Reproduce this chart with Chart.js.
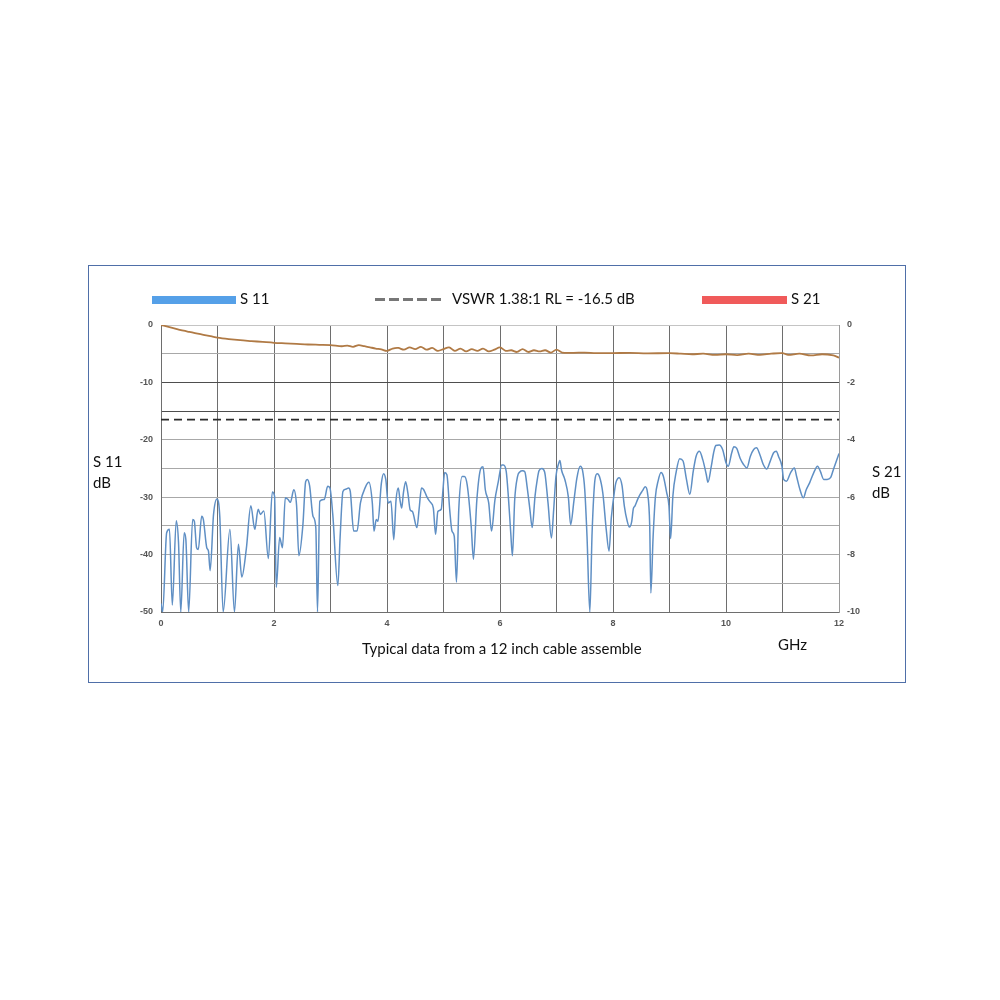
<!DOCTYPE html>
<html>
<head>
<meta charset="utf-8">
<script src="https://cdn.jsdelivr.net/npm/chart.js@4.4.1/dist/chart.umd.min.js"></script>
<style>
  html, body { margin: 0; padding: 0; background: #fff; }
  #wrap { position: relative; width: 1000px; height: 1000px; font-family: Lato, "Noto Sans", sans-serif; color: #111; }
  #chart { position: absolute; left: 0; top: 0; }
  .frame { position: absolute; left: 88px; top: 265px; width: 816px; height: 416px; border: 1px solid #4f6fa8; }
  .txt { position: absolute; font-size: 15px; line-height: 21px; white-space: nowrap; }
  .bar { position: absolute; height: 8px; }
  .dash { position: absolute; width: 68px; height: 3px;
          background: repeating-linear-gradient(to right, #777 0 10px, transparent 10px 14px); }
</style>
</head>
<body>
<div id="wrap">
  <div class="frame"></div>
  <canvas id="chart" width="1000" height="1000"></canvas>
  <div class="bar" style="left:152px;top:296px;width:84px;background:#55a0e8"></div>
  <div class="txt" style="left:240px;top:288px">S 11</div>
  <div class="dash" style="left:375px;top:298px"></div>
  <div class="txt" style="left:452px;top:288px">VSWR 1.38:1 RL = -16.5 dB</div>
  <div class="bar" style="left:702px;top:296px;width:85px;background:#f05a5a"></div>
  <div class="txt" style="left:791px;top:288px">S 21</div>
  <div class="txt" style="left:93px;top:451px">S 11<br>dB</div>
  <div class="txt" style="left:872px;top:461px">S 21<br>dB</div>
  <div class="txt" style="left:362px;top:638px">Typical data from a 12 inch cable assemble</div>
  <div class="txt" style="left:778px;top:634px">GHz</div>
</div>
<script>
// S11 return loss (GHz, dB)
const s11Freq = [0.00, 0.03, 0.10, 0.15, 0.20, 0.27, 0.31, 0.35, 0.41, 0.44, 0.49, 0.56, 0.59, 0.63, 0.66,
  0.72, 0.75, 0.81, 0.84, 0.87, 0.93, 0.99, 1.04, 1.10, 1.22, 1.30, 1.37, 1.43, 1.51, 1.59, 1.66, 1.72,
  1.76, 1.82, 1.90, 1.97, 2.01, 2.04, 2.10, 2.15, 2.20, 2.25, 2.29, 2.35, 2.40, 2.44, 2.51, 2.56, 2.59,
  2.63, 2.69, 2.74, 2.77, 2.81, 2.89, 2.95, 2.99, 3.04, 3.13, 3.17, 3.22, 3.27, 3.32, 3.35, 3.41, 3.47,
  3.53, 3.62, 3.68, 3.74, 3.77, 3.81, 3.84, 3.90, 3.94, 3.98, 4.02, 4.07, 4.12, 4.16, 4.20, 4.23, 4.26,
  4.29, 4.33, 4.37, 4.41, 4.45, 4.53, 4.57, 4.61, 4.65, 4.70, 4.74, 4.77, 4.82, 4.86, 4.90, 4.96, 4.99,
  5.02, 5.06, 5.11, 5.15, 5.19, 5.23, 5.27, 5.33, 5.37, 5.42, 5.49, 5.53, 5.59, 5.66, 5.70, 5.74, 5.80,
  5.85, 5.91, 5.97, 6.03, 6.06, 6.11, 6.15, 6.19, 6.22, 6.26, 6.31, 6.35, 6.40, 6.44, 6.48, 6.53, 6.57,
  6.62, 6.66, 6.69, 6.74, 6.79, 6.85, 6.91, 6.95, 6.99, 7.03, 7.06, 7.09, 7.15, 7.21, 7.25, 7.31, 7.36,
  7.42, 7.46, 7.50, 7.54, 7.59, 7.63, 7.68, 7.72, 7.76, 7.82, 7.88, 7.93, 7.97, 8.03, 8.05, 8.11, 8.16,
  8.20, 8.25, 8.29, 8.33, 8.36, 8.39, 8.44, 8.48, 8.52, 8.57, 8.61, 8.65, 8.67, 8.71, 8.75, 8.80, 8.85,
  8.89, 8.95, 8.99, 9.02, 9.06, 9.12, 9.18, 9.24, 9.30, 9.36, 9.42, 9.47, 9.53, 9.59, 9.65, 9.68, 9.74,
  9.78, 9.82, 9.88, 9.94, 10.00, 10.04, 10.10, 10.14, 10.19, 10.25, 10.31, 10.37, 10.43, 10.49, 10.54,
  10.60, 10.66, 10.72, 10.78, 10.84, 10.89, 10.93, 10.99, 11.02, 11.07, 11.14, 11.21, 11.25, 11.31,
  11.37, 11.42, 11.48, 11.55, 11.62, 11.67, 11.73, 11.79, 11.85, 11.91, 11.96, 12.00];
const s11Db = [-48.5, -50, -36.2, -35.6, -48.8, -34.1, -37.9, -50, -36.2, -37.4, -50, -33.9, -34.2, -38.8, -39.1,
  -33.3, -33.9, -38.8, -39.4, -42.8, -33, -30.3, -33.3, -50, -35.6, -50, -38.2, -43.9, -39, -31.5, -35.6, -32.1,
  -33, -32.4, -40.7, -29.1, -29.8, -45.7, -37, -38.8, -30.1, -30.4, -30.9, -28.7, -31.5, -40.2, -35, -27.3, -26.9,
  -28, -33.3, -35.3, -50, -30.7, -30.4, -28.1, -28.4, -33, -45.4, -37, -29, -28.6, -28.4, -29, -35.9, -35.9,
  -31, -28.2, -27.4, -31, -35.9, -33.9, -34.2, -27.6, -25.9, -27, -31, -30.7, -37.4, -30.5, -28.4, -30.5, -31.9,
  -29.3, -27.3, -29.3, -32.2, -32.5, -35.3, -31.9, -28.4, -28.7, -29.8, -30.5, -30.9, -31.9, -36.5, -32.5, -32.1, -28.8,
  -25.7, -26.1, -32.2, -35.9, -36.8, -44.8, -32.2, -26.4, -26.4, -27.9, -35, -40.8, -30.5, -25, -24.7, -28.7, -31,
  -35.9, -30.5, -27.3, -24.4, -24.4, -25.5, -30.2, -36.2, -40.2, -30.5, -26.4, -25.6, -25.4, -25.6, -28.2, -32.2, -35.3,
  -29.8, -26.9, -25.4, -25, -25.6, -31, -37.1, -32.2, -26.4, -24.4, -23.6, -25.3, -27, -30, -34.8, -30.5, -26.7,
  -24.6, -25.3, -28.7, -36.8, -50, -36.2, -27, -25.9, -26.4, -29.3, -35.6, -39.4, -33.6, -28.7, -27.5, -26.6, -28,
  -31.5, -34.1, -35.2, -34.3, -32, -31.5, -30.3, -29.5, -28.9, -28.2, -29.2, -35, -46.7, -36.9, -30, -27.1, -25.7,
  -26.3, -29.2, -31.5, -37.2, -29.8, -25.5, -23.3, -23.7, -26.9, -29.5, -25.5, -22.9, -22, -23.5, -26, -27.4, -24.6,
  -22.3, -21, -20.9, -21.7, -24, -24.6, -22.3, -21.2, -21.5, -23.2, -24.3, -24.9, -22.9, -21.7, -21.4,
  -22.6, -24.3, -25.1, -23.8, -22.3, -22, -22.9, -24.6, -26.9, -27.2, -25.8, -24.9, -26.4, -28.7,
  -30.1, -28.7, -27.5, -25.8, -24.6, -25.5, -26.9, -26.9, -26.6, -24.9, -23.5, -22.4];

// S21 insertion loss, right axis (GHz, dB)
const s21Freq = [0, 0.1, 0.2, 0.3, 0.4, 0.5, 0.6, 0.7, 0.8, 0.9, 1.0, 1.2, 1.4, 1.6, 1.8, 2.0, 2.2, 2.4, 2.6,
  2.8, 3.0, 3.2, 3.3, 3.4, 3.5, 3.6, 3.7, 3.8, 3.9, 4.0, 4.1, 4.2, 4.3, 4.4, 4.5, 4.6, 4.7, 4.8, 4.9, 5.0,
  5.1, 5.2, 5.3, 5.4, 5.5, 5.6, 5.7, 5.8, 5.9, 6.0, 6.1, 6.2, 6.3, 6.4, 6.5, 6.6, 6.7, 6.8, 6.9, 7.0, 7.1,
  7.3, 7.5, 7.7, 8.0, 8.3, 8.6, 9.0, 9.2, 9.4, 9.6, 9.8, 10.0, 10.2, 10.4, 10.6, 10.8, 11.0, 11.1, 11.3,
  11.5, 11.7, 11.9, 12.0];
const s21Db = [0, -0.05, -0.1, -0.15, -0.2, -0.24, -0.28, -0.32, -0.36, -0.4, -0.44, -0.49, -0.53, -0.56, -0.59,
  -0.62, -0.64, -0.66, -0.68, -0.69, -0.7, -0.74, -0.72, -0.76, -0.7, -0.74, -0.78, -0.82, -0.85, -0.9, -0.82,
  -0.8, -0.86, -0.78, -0.84, -0.76, -0.86, -0.8, -0.9, -0.84, -0.78, -0.9, -0.82, -0.92, -0.84, -0.9, -0.82,
  -0.92, -0.86, -0.78, -0.9, -0.88, -0.94, -0.84, -0.94, -0.88, -0.92, -0.88, -0.96, -0.86, -0.96, -0.97,
  -0.96, -0.98, -0.98, -0.97, -0.99, -0.98, -1.0, -1.02, -1.0, -1.04, -1.02, -1.05, -1.0, -1.04, -1.0, -0.98,
  -1.04, -1.0, -1.06, -1.02, -1.06, -1.14];

const vswrLimit = -16.5;
const freqRange = [0, 12];

const xTickLabels = [0, 2, 4, 6, 8, 10, 12];
const s11TickLabels = [0, -10, -20, -30, -40, -50];
const s21TickLabels = [0, -2, -4, -6, -8, -10];

const toPoints = (xs, ys) => xs.map((x, i) => ({ x: x, y: ys[i] }));
const tickFont = { family: "Liberation Sans, Arial", size: 9, weight: "bold" };

new Chart(document.getElementById("chart").getContext("2d"), {
  type: "line",
  data: {
    datasets: [
      {
        label: "VSWR",
        data: toPoints(freqRange, [vswrLimit, vswrLimit]),
        borderColor: "#2b2b2b",
        borderWidth: 1.8,
        borderDash: [8, 5],
        pointRadius: 0,
        yAxisID: "y"
      },
      {
        label: "S 11",
        data: toPoints(s11Freq, s11Db),
        borderColor: "#5f8fc4",
        borderWidth: 1.5,
        pointRadius: 0,
        tension: 0.3,
        cubicInterpolationMode: "monotone",
        yAxisID: "y"
      },
      {
        label: "S 21",
        data: toPoints(s21Freq, s21Db),
        borderColor: "#b07a45",
        borderWidth: 1.8,
        pointRadius: 0,
        tension: 0.3,
        yAxisID: "y2"
      }
    ]
  },
  options: {
    responsive: false,
    animation: false,
    devicePixelRatio: 1,
    // chart area pinned by padding + fixed axis sizes below
    layout: { padding: { top: 325, left: 0, right: 0, bottom: 0 } },
    plugins: { legend: { display: false }, title: { display: false }, tooltip: { enabled: false } },
    scales: {
      x: {
        type: "linear",
        min: 0,
        max: 12,
        afterFit(s) { s.height = 388; },
        ticks: {
          stepSize: 1,
          autoSkip: false,
          maxRotation: 0,
          padding: 6,
          color: "#555",
          font: tickFont,
          callback: v => (xTickLabels.includes(v) ? String(v) : "")
        },
        grid: { color: "#6e6e6e", lineWidth: 1, drawTicks: false },
        border: { color: "#6e6e6e" }
      },
      y: {
        position: "left",
        min: -50,
        max: 0,
        afterFit(s) { s.width = 161; },
        ticks: {
          stepSize: 5,
          autoSkip: false,
          padding: 8,
          color: "#555",
          font: tickFont,
          callback: v => (s11TickLabels.includes(v) ? String(v) : "")
        },
        grid: {
          drawTicks: false,
          lineWidth: 1,
          color: c => {
            const v = c.tick.value;
            if (v === -10 || v === -15) return "#4e4e4e";
            if (v === 0) return "#c4c4c4";
            return "#a8a8a8";
          }
        },
        border: { color: "#6e6e6e" }
      },
      y2: {
        position: "right",
        min: -10,
        max: 0,
        afterFit(s) { s.width = 161; },
        ticks: {
          stepSize: 2,
          autoSkip: false,
          padding: 8,
          color: "#555",
          font: tickFont,
          callback: v => (s21TickLabels.includes(v) ? String(v) : "")
        },
        grid: { display: false, drawTicks: false },
        border: { color: "#9a9a9a" }
      }
    }
  }
});
</script>
</body>
</html>
